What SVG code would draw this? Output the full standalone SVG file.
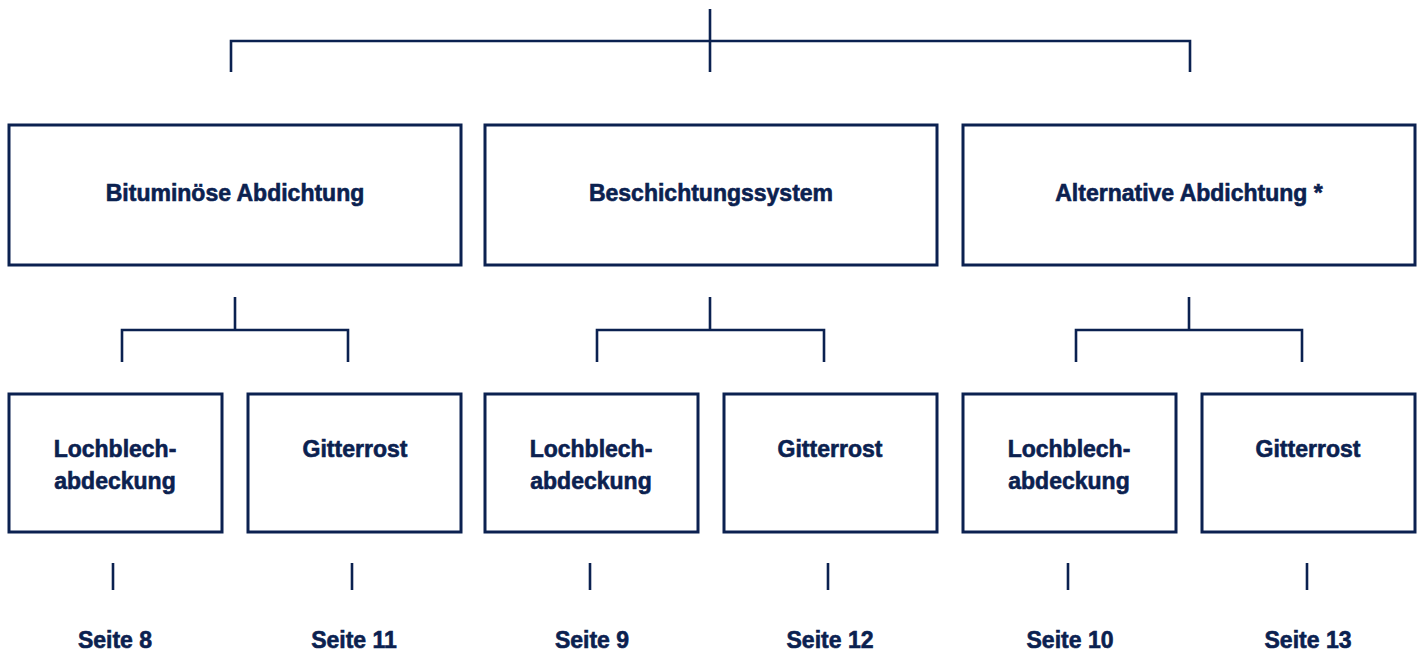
<svg xmlns="http://www.w3.org/2000/svg" width="1424" height="652" viewBox="0 0 1424 652">
<style>
.box{fill:#fff;stroke:#0b2150;stroke-width:3}
.ln{fill:none;stroke:#0b2150;stroke-width:2.6}
.t{font-family:"Liberation Sans",Arial,sans-serif;font-weight:bold;font-size:23px;fill:#0b2150;stroke:#0b2150;stroke-width:0.6;text-anchor:middle}
</style>
<rect width="1424" height="652" fill="#fff"/>
<g id="connectors" class="ln">
<path d="M710 9V72M231 72V41H1190V72"/>
<path d="M235 297V330M122 362V330H348V362"/>
<path d="M710 297V330M597 362V330H824V362"/>
<path d="M1189 297V330M1076 362V330H1302V362"/>
<path d="M113 563V590M352 563V590M590 563V590M828 563V590M1068 563V590M1307 563V590"/>
</g>
<g id="n-bitum"><rect class="box" x="9" y="125" width="452" height="140"/><text class="t" x="235" y="201">Bituminöse Abdichtung</text></g>
<g id="n-besch"><rect class="box" x="485" y="125" width="452" height="140"/><text class="t" x="711" y="201">Beschichtungssystem</text></g>
<g id="n-alt"><rect class="box" x="963" y="125" width="452" height="140"/><text class="t" x="1189" y="201">Alternative Abdichtung *</text></g>
<g id="n-l1"><rect class="box" x="9" y="394" width="213" height="138"/><text class="t" x="115" y="457">Lochblech-</text><text class="t" x="115" y="489">abdeckung</text></g>
<g id="n-g1"><rect class="box" x="248" y="394" width="213" height="138"/><text class="t" x="355" y="457">Gitterrost</text></g>
<g id="n-l2"><rect class="box" x="485" y="394" width="213" height="138"/><text class="t" x="591" y="457">Lochblech-</text><text class="t" x="591" y="489">abdeckung</text></g>
<g id="n-g2"><rect class="box" x="724" y="394" width="213" height="138"/><text class="t" x="830" y="457">Gitterrost</text></g>
<g id="n-l3"><rect class="box" x="963" y="394" width="213" height="138"/><text class="t" x="1069" y="457">Lochblech-</text><text class="t" x="1069" y="489">abdeckung</text></g>
<g id="n-g3"><rect class="box" x="1202" y="394" width="213" height="138"/><text class="t" x="1308" y="457">Gitterrost</text></g>
<g id="pages">
<text class="t" x="115" y="648">Seite 8</text>
<text class="t" x="354" y="648">Seite 11</text>
<text class="t" x="592" y="648">Seite 9</text>
<text class="t" x="830" y="648">Seite 12</text>
<text class="t" x="1070" y="648">Seite 10</text>
<text class="t" x="1308" y="648">Seite 13</text>
</g>
</svg>
